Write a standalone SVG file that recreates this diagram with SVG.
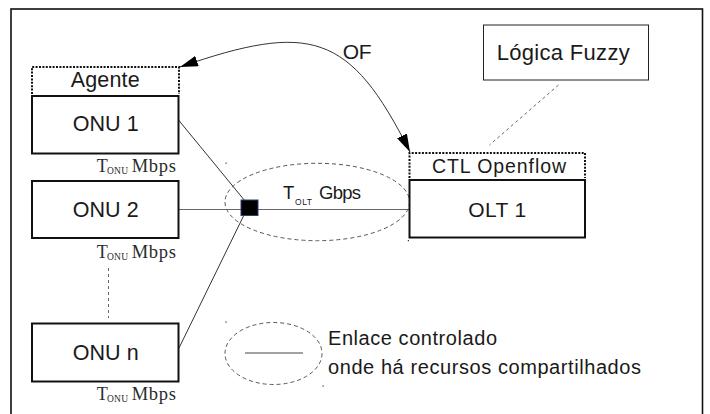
<svg xmlns="http://www.w3.org/2000/svg" width="710" height="414" viewBox="0 0 710 414">
  <style>
    .sans { font-family: "Liberation Sans", Arial, sans-serif; fill: #1a1a1a; }
    .serif { font-family: "Liberation Serif", "Times New Roman", serif; fill: #2a2a2a; }
    .box { fill: #fff; stroke: #111; stroke-width: 2; }
    .thin { fill: #fff; stroke: #222; stroke-width: 1; }
    .dotted { fill: none; stroke: #111; stroke-width: 2; stroke-dasharray: 2 1.4; }
    .link { fill: none; stroke: #333; stroke-width: 1; }
    .trunk { fill: none; stroke: #666; stroke-width: 1.2; }
    .dash { fill: none; stroke: #555; stroke-width: 1; stroke-dasharray: 4 3; }
    .fine-dash { fill: none; stroke: #666; stroke-width: 1; stroke-dasharray: 3 3; }
    .handle { fill: #333; }
  </style>
  <defs>
    <marker id="arrow" markerUnits="userSpaceOnUse" markerWidth="18" markerHeight="11" refX="18" refY="5.5" orient="auto-start-reverse">
      <path d="M0,0 L18,5.5 L0,11 Z" fill="#000"/>
    </marker>
  </defs>

  <rect width="710" height="414" fill="#fff"/>
  <!-- outer frame, bottom edge runs past the canvas -->
  <rect x="11" y="9" width="691.5" height="420" fill="none" stroke="#111" stroke-width="1.6"/>

  <!-- connectors -->
  <g id="connectors">
    <line class="link" x1="178.5" y1="120" x2="245" y2="201"/>
    <line class="trunk" x1="179" y1="209.5" x2="409" y2="209.5"/>
    <line class="link" x1="179" y1="348" x2="244" y2="215"/>
    <path class="link" d="M180,67 C310,22 350,32 410,152" stroke="#333" stroke-width="1.2" marker-start="url(#arrow)" marker-end="url(#arrow)"/>
    <line class="fine-dash" x1="558.5" y1="85" x2="489.5" y2="145"/>
    <line class="fine-dash" x1="108.5" y1="268" x2="108.5" y2="318" stroke-dasharray="2 2.5"/>
  </g>

  <!-- shared link region -->
  <g id="shared-link">
    <ellipse class="dash" cx="317.3" cy="202" rx="92.3" ry="38.7"/>
    <rect x="241" y="200" width="17" height="15.5" fill="#000" stroke="#2c4170" stroke-width="1"/>
    <text class="sans" x="283" y="199" font-size="18.5">T</text>
    <text class="sans" x="295" y="205" font-size="8.5" textLength="17">OLT</text>
    <text class="sans" x="319" y="199" font-size="18.5" textLength="42">Gbps</text>
    <rect class="handle" x="225.5" y="162.5" width="1.2" height="1.2"/>
    <rect class="handle" x="407.8" y="240" width="1.2" height="1.2"/>
  </g>

  <!-- OF label -->
  <text class="sans" x="342.7" y="59" font-size="21" textLength="29">OF</text>

  <!-- ONU 1 with agent -->
  <g id="onu1">
    <path class="dotted" d="M32,94 V67 H179 V94"/>
    <text class="sans" x="70.7" y="87" font-size="21.5" textLength="69">Agente</text>
    <rect class="box" x="32" y="96" width="146.5" height="57.5"/>
    <text class="sans" x="72.7" y="131" font-size="21.5" textLength="66">ONU 1</text>
    <text class="serif" x="96.7" y="172" font-size="18">T</text>
    <text class="serif" x="107" y="173.5" font-size="9.5" textLength="21">ONU</text>
    <text class="serif" x="131.7" y="172" font-size="18.5" textLength="44.3">Mbps</text>
  </g>

  <!-- ONU 2 -->
  <g id="onu2">
    <rect class="box" x="32" y="181" width="146.5" height="57"/>
    <text class="sans" x="72.7" y="217" font-size="21.5" textLength="66">ONU 2</text>
    <text class="serif" x="96.7" y="258" font-size="18">T</text>
    <text class="serif" x="107" y="259.5" font-size="9.5" textLength="21">ONU</text>
    <text class="serif" x="131.7" y="258" font-size="18.5" textLength="44.3">Mbps</text>
  </g>

  <!-- ONU n -->
  <g id="onun">
    <rect class="box" x="32" y="323.5" width="146.5" height="58"/>
    <text class="sans" x="72.7" y="360" font-size="21.5" textLength="66">ONU n</text>
    <text class="serif" x="96.7" y="400" font-size="18">T</text>
    <text class="serif" x="107" y="401.5" font-size="9.5" textLength="21">ONU</text>
    <text class="serif" x="131.7" y="400" font-size="18.5" textLength="44.3">Mbps</text>
  </g>

  <!-- OLT with OpenFlow controller -->
  <g id="olt1">
    <path class="dotted" d="M409.5,178 V153 H585 V178"/>
    <text class="sans" x="432" y="173" font-size="19.5" textLength="134">CTL Openflow</text>
    <rect class="box" x="409.5" y="180" width="175.5" height="57.5"/>
    <text class="sans" x="468.3" y="216.7" font-size="21" textLength="58">OLT 1</text>
  </g>

  <!-- fuzzy logic module -->
  <g id="fuzzy">
    <rect class="thin" x="483.5" y="25" width="165" height="55"/>
    <text class="sans" x="496.7" y="60" font-size="22" textLength="133">Lógica Fuzzy</text>
  </g>

  <!-- legend -->
  <g id="legend">
    <ellipse class="dash" cx="273.5" cy="353.5" rx="48.5" ry="31" stroke-dasharray="3 3"/>
    <line x1="245" y1="353" x2="303" y2="353" stroke="#444" stroke-width="1"/>
    <rect class="handle" x="225.5" y="321.5" width="1.2" height="1.2"/>
    <rect class="handle" x="322.5" y="385.5" width="1.2" height="1.2"/>
    <text class="sans" x="328" y="345" font-size="20" textLength="169">Enlace controlado</text>
    <text class="sans" x="328" y="374" font-size="20" textLength="313">onde há recursos compartilhados</text>
  </g>
</svg>
